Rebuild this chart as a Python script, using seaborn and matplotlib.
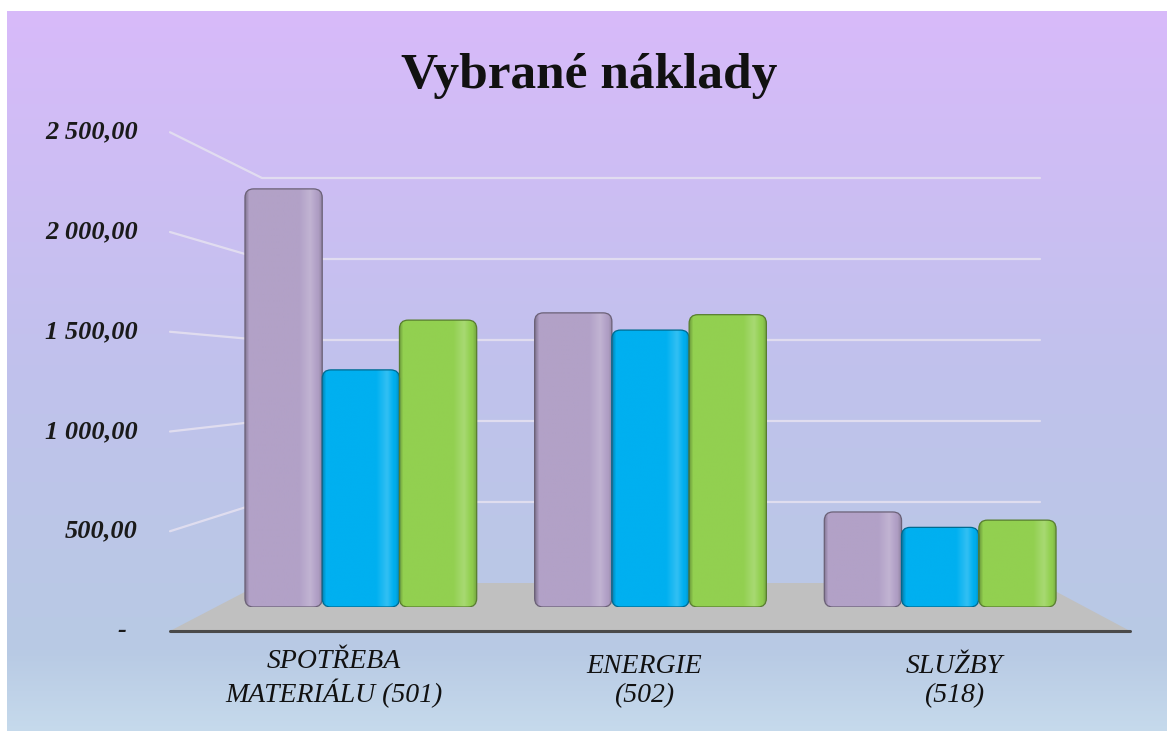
import numpy as np
import pandas as pd
import matplotlib.pyplot as plt
import seaborn as sns
from matplotlib.patches import FancyBboxPatch, Polygon
from matplotlib.colors import to_rgb

# Data
kategorie = ["SPOTŘEBA\nMATERIÁLU (501)", "ENERGIE\n(502)", "SLUŽBY\n(518)"]
rady = ["Řada 1", "Řada 2", "Řada 3"]
hodnoty_rada1 = [2310, 1625, 525]
hodnoty_rada2 = [1310, 1530, 440]
hodnoty_rada3 = [1585, 1615, 480]
barvy = ["#b2a1c7", "#00b0f0", "#92d050"]
y_ticks = [0, 500, 1000, 1500, 2000, 2500]
y_labels = ["-", "500,00", "1 000,00", "1 500,00", "2 000,00", "2 500,00"]

df = pd.DataFrame({
    "kategorie": kategorie * 3,
    "rada": [r for r in rady for _ in kategorie],
    "hodnota": hodnoty_rada1 + hodnoty_rada2 + hodnoty_rada3,
})

sns.set_theme(style="white")
plt.rcParams["font.family"] = ["Liberation Serif", "DejaVu Serif"]

W, H = 1167, 731
fig = plt.figure(figsize=(W / 100, H / 100), dpi=100)

# background layer in pixel coordinates
bg = fig.add_axes([0, 0, 1, 1], zorder=0)
stops_y = [11, 380, 650, 731]
stops_c = np.array([[216, 186, 250], [192, 194, 236], [184, 202, 228], [198, 218, 236]]) / 255
yy = np.arange(11, H)
grad = np.stack([np.interp(yy, stops_y, stops_c[:, k]) for k in range(3)], axis=1)
bg.imshow(grad[:, None, :], extent=[7, W, H, 11], aspect="auto", interpolation="bilinear")

# pseudo-3D floor and walls
FY0, FK = 631, 0.1995   # front plane
BY0, BK = 583, 0.162    # back wall
FL, FR, BL, BR = 170, 1130, 262, 1040
bg.add_patch(Polygon([(FL, FY0), (BL, BY0), (BR, BY0), (FR, FY0)], closed=True,
                     facecolor="#c0c0c0", edgecolor="none"))
for v in y_ticks[1:]:
    bg.plot([FL, BL, BR], [FY0 - v * FK, BY0 - v * BK, BY0 - v * BK],
            color="#e4e0f0", lw=1.6, alpha=0.9, solid_capstyle="round")
bg.plot([FL, FR], [FY0, FY0], color="#4a4a4a", lw=2.2)

for v, lab in zip(y_ticks, y_labels):
    x = 138 if v else 122
    bg.text(x, FY0 - v * FK, lab, ha="right" if v else "center", va="center",
            fontsize=19, fontweight="bold", fontstyle="italic", color="#1a1a1a")

bg.text(589, 88, "Vybrané náklady", ha="center", va="baseline",
        fontsize=37, fontweight="bold", color="#111111")

for i, kat in enumerate(kategorie):
    bg.text(334 + i * 310, 702, kat, ha="center", va="baseline", fontsize=20,
            fontstyle="italic", color="#111111", linespacing=1.2, multialignment="center")

bg.set_xlim(0, W)
bg.set_ylim(H, 0)
bg.axis("off")

# bars
ax = fig.add_axes([216 / W, (H - 607) / H, 869 / W, 2700 * 0.181 / H], zorder=1)
ax.patch.set_alpha(0)
sns.barplot(data=df, x="kategorie", y="hodnota", hue="rada", palette=barvy,
            saturation=1, width=0.8, ax=ax, legend=False)
ax.set_xlim(-0.5, 2.5)
ax.set_ylim(0, 2700)

aspect = 290 / 0.181
t = np.linspace(0, 1, 80)
prof = np.interp(t, [0, 0.05, 0.7, 0.84, 0.95, 1], [0.75, 1, 1, 1.08, 0.97, 0.8])
for rect in list(ax.patches):
    x, y = rect.get_xy()
    w, h = rect.get_width(), rect.get_height()
    base = np.array(to_rgb(rect.get_facecolor()))
    rect.remove()
    if h <= 0:
        continue
    box = FancyBboxPatch((x, y), w, h, boxstyle="round,pad=0,rounding_size=0.03",
                         mutation_aspect=aspect, facecolor=base, edgecolor="none", zorder=2)
    ax.add_patch(box)
    cols = np.array([base * f if f <= 1 else base + (1 - base) * (f - 1) * 2.5 for f in prof])
    im = ax.imshow(np.clip(cols, 0, 1)[None, :, :], extent=[x, x + w, y, y + h],
                   aspect="auto", interpolation="bilinear", zorder=3)
    im.set_clip_path(box)
    ax.add_patch(FancyBboxPatch((x, y), w, h, boxstyle="round,pad=0,rounding_size=0.03",
                                mutation_aspect=aspect, fill=False,
                                edgecolor=base * 0.6, lw=0.9, zorder=4))

ax.set_xlim(-0.5, 2.5)
ax.set_ylim(0, 2700)
ax.axis("off")

fig.savefig("out.png", dpi=100, facecolor="white")
